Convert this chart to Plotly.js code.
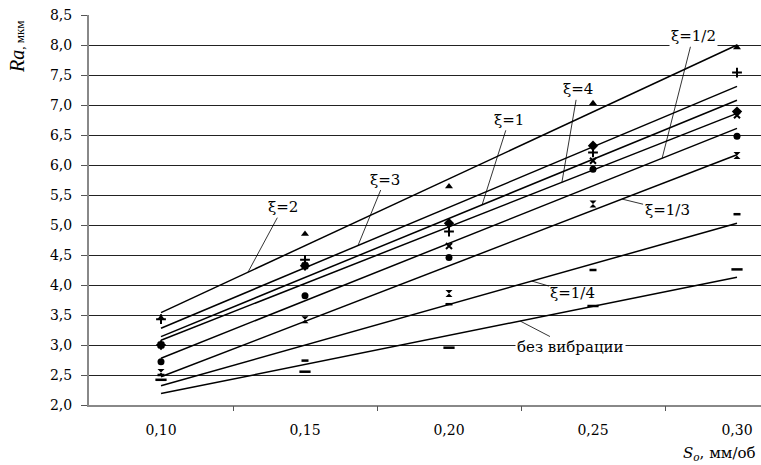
<!DOCTYPE html>
<html>
<head>
<meta charset="utf-8">
<script src="https://cdn.plot.ly/plotly-3.0.1.min.js"></script>
<style>
html,body{margin:0;padding:0;background:#fff;}
#chart{width:761px;height:465px;}
</style>
</head>
<body>
<div id="chart"></div>
<script>
// ---- data ----
const feeds = [0.10, 0.15, 0.20, 0.25, 0.30];
const feedTickText = ['0,10', '0,15', '0,20', '0,25', '0,30'];
const raTickVals = [2.0, 2.5, 3.0, 3.5, 4.0, 4.5, 5.0, 5.5, 6.0, 6.5, 7.0, 7.5, 8.0, 8.5];
const raTickText = ['2,0', '2,5', '3,0', '3,5', '4,0', '4,5', '5,0', '5,5', '6,0', '6,5', '7,0', '7,5', '8,0', '8,5'];

// measured points (one array per series)
const ptsTriangle  = [3.45, 4.85, 5.64, 7.03, 7.96];
const ptsPlus      = [3.43, 4.42, 4.89, 6.21, 7.54];
const ptsDiamond   = [3.00, 4.32, 5.03, 6.32, 6.89];
const ptsCross     = [3.00, 4.32, 4.65, 6.07, 6.83];
const ptsCircle    = [2.72, 3.82, 4.46, 5.93, 6.48];
const ptsStar      = [2.54, 3.42, 3.86, 5.35, 6.16];
const ptsDash      = [2.50, 2.74, 3.68, 4.25, 5.18];
const ptsLongDash  = [2.42, 2.555, 2.955, 3.65, 4.26];

// trend lines: value at 0,10 and at 0,30
const trendLabels = ['ξ=2', 'ξ=3', 'ξ=1', 'ξ=4', 'ξ=1/2', 'ξ=1/3', 'ξ=1/4', 'без вибрации'];
const trendStart  = [3.54, 3.28, 3.14, 3.08, 2.78, 2.47, 2.32, 2.19];
const trendEnd    = [8.00, 7.31, 7.08, 6.86, 6.61, 6.17, 5.03, 4.13];
// where each label's leader line touches its trend line (feed value)
const leaderAtFeed = [0.1302, 0.1684, 0.2115, 0.2392, 0.2740, 0.2601, 0.2288, 0.2247];

// ---- styling (not data) ----
const serif = 'DejaVu Serif, Liberation Serif, serif';
const markerDefs = [
  {y: ptsTriangle, symbol: 'triangle-up', size: 7},
  {y: ptsPlus, symbol: 'cross-thin-open', size: 7, lw: 2},
  {y: ptsDiamond, symbol: 'diamond', size: 8},
  {y: ptsCross, symbol: 'x-thin-open', size: 6, lw: 2},
  {y: ptsCircle, symbol: 'circle', size: 7},
  {y: ptsStar, symbol: 'hourglass', size: 7},
  {y: ptsDash, symbol: 'line-ew-open', size: 5, lw: 2.5},
  {y: ptsLongDash, symbol: 'line-ew-open', size: 8, lw: 2.5}
];
const labelOffsets = [
  [35, -65], [27, -66], [27, -85], [16, -93], [31, -122], [45, 11], [41, 12], [50, 26]
];
const labelBg = [false, false, false, false, true, false, false, true];

const x0 = feeds[0], x1 = feeds[feeds.length - 1];
const traces = [];

trendStart.forEach((s, i) => {
  traces.push({
    type: 'scatter', mode: 'lines',
    x: [x0, x1], y: [s, trendEnd[i]],
    line: {color: '#000', width: 1.5},
    hoverinfo: 'skip', showlegend: false
  });
});

markerDefs.forEach(d => {
  traces.push({
    type: 'scatter', mode: 'markers',
    x: feeds, y: d.y,
    marker: {symbol: d.symbol, size: d.size, color: '#000',
             line: {color: '#000', width: d.lw || 0}},
    hoverinfo: 'skip', showlegend: false
  });
});

// dummy trace to host the overlay axis carrying category-boundary ticks
traces.push({type: 'scatter', mode: 'markers', x: [], y: [], xaxis: 'x2', yaxis: 'y',
             hoverinfo: 'skip', showlegend: false});

const xRange = [0.075, 0.075 + 672 / 144 * 0.05];
const boundaryTicks = feeds.slice(0, -1).map((f, i) => (f + feeds[i + 1]) / 2);

const annotations = trendLabels.map((txt, i) => {
  const f = leaderAtFeed[i];
  const yv = trendStart[i] + (trendEnd[i] - trendStart[i]) * (f - x0) / (x1 - x0);
  const a = {
    x: f, y: yv, xref: 'x', yref: 'y',
    text: txt, showarrow: true, arrowhead: 0, arrowwidth: 0.8, arrowcolor: '#000',
    ax: labelOffsets[i][0], ay: labelOffsets[i][1],
    font: {family: serif, size: 15, color: '#000'},
    borderpad: 1
  };
  if (labelBg[i]) a.bgcolor = '#fff';
  return a;
});

annotations.push({
  xref: 'paper', yref: 'paper', x: -72 / 672, y: (405 - 47) / 390,
  xanchor: 'center', yanchor: 'middle', textangle: -90, showarrow: false,
  text: '<i>Ra</i><span style="font-size:13px">, мкм</span>',
  font: {family: 'Liberation Serif, serif', size: 20, color: '#000'}
});
annotations.push({
  xref: 'paper', yref: 'paper', x: 0.995, y: (405 - 453) / 390,
  xanchor: 'right', yanchor: 'middle', showarrow: false,
  text: '<i>S<sub>o</sub></i>, мм/об',
  font: {family: serif, size: 15, color: '#000'}
});

const layout = {
  width: 761, height: 465,
  margin: {l: 89, r: 0, t: 15, b: 60, pad: 0},
  paper_bgcolor: '#fff', plot_bgcolor: '#fff',
  showlegend: false,
  xaxis: {
    range: xRange, tickvals: feeds, ticktext: feedTickText,
    ticks: '', showgrid: false, zeroline: false,
    showline: true, linecolor: '#888', linewidth: 1.5,
    tickfont: {family: serif, size: 14, color: '#000'},
    ticklabelstandoff: 12, fixedrange: true
  },
  xaxis2: {
    overlaying: 'x', anchor: 'y', side: 'bottom', matches: 'x',
    range: xRange, tickvals: boundaryTicks,
    ticks: 'outside', ticklen: 5, tickcolor: '#555', tickwidth: 1,
    showgrid: false, zeroline: false, showline: false, showticklabels: false
  },
  yaxis: {
    range: [2.0, 8.5], tickvals: raTickVals, ticktext: raTickText,
    ticks: 'outside', ticklen: 6, tickcolor: '#555', tickwidth: 1,
    showgrid: true, gridcolor: '#222', gridwidth: 1,
    zeroline: false, showline: true, linecolor: '#888', linewidth: 2,
    tickfont: {family: serif, size: 14, color: '#000'},
    ticklabelstandoff: 6, fixedrange: true
  },
  annotations: annotations
};

Plotly.newPlot('chart', traces, layout, {staticPlot: true, displayModeBar: false});
</script>
</body>
</html>
